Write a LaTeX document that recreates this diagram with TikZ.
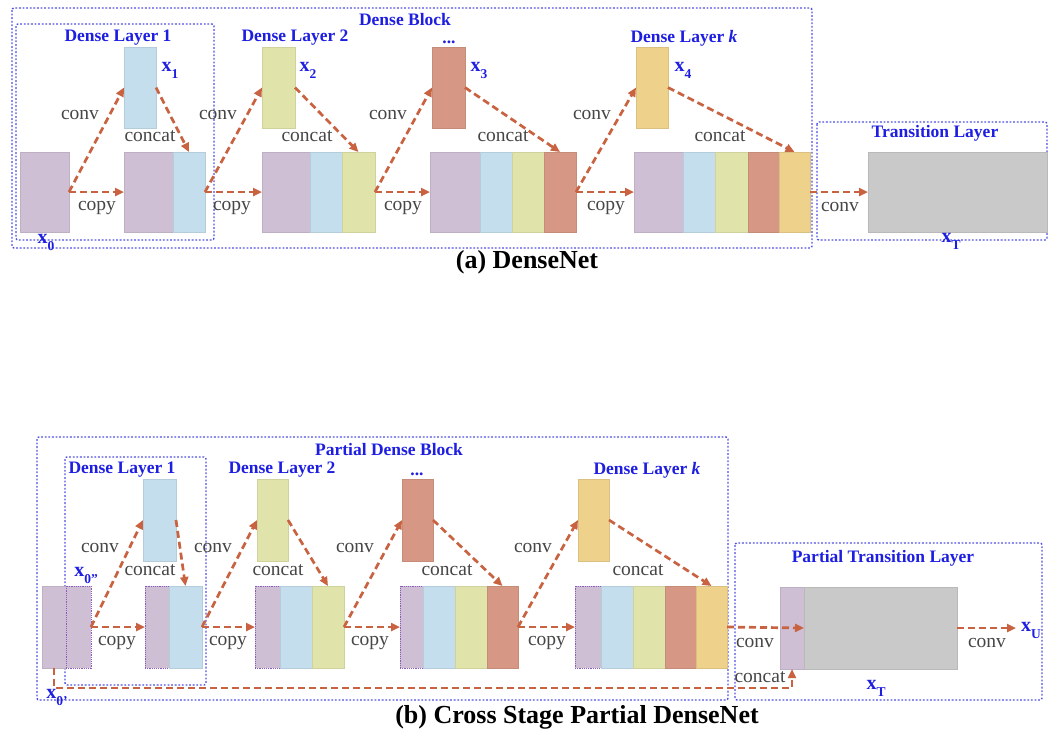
\documentclass[tikz,border=0pt]{standalone}
\usepackage{fontspec}
\setmainfont{Liberation Serif}
\usetikzlibrary{arrows.meta,calc}
\definecolor{cpur}{RGB}{206,191,212}
\definecolor{cblu}{RGB}{197,222,237}
\definecolor{cyel}{RGB}{225,228,170}
\definecolor{csal}{RGB}{214,152,132}
\definecolor{corn}{RGB}{238,210,140}
\definecolor{cgry}{RGB}{201,201,201}
\definecolor{carr}{RGB}{200,98,64}
\definecolor{cfrm}{RGB}{80,80,225}
\definecolor{clab}{RGB}{30,30,225}
\definecolor{ctxt}{RGB}{70,70,70}
\definecolor{cdot}{RGB}{140,90,190}
\tikzset{
  seg/.style={draw=#1!92!black, fill=#1, line width=0.3pt, inner sep=0pt, outer sep=0pt, anchor=north west},
  dseg/.style={draw=cdot, fill=cpur, line width=0.9pt, dash pattern=on 1.2pt off 1pt, inner sep=0pt, outer sep=0pt, anchor=north west},
  arr/.style={draw=carr, line width=2.7pt, dash pattern=on 7pt off 4pt, -{Triangle[length=9pt,width=8pt]}},
  frame/.style={draw=cfrm, line width=1.4pt, dash pattern=on 1.8pt off 1.8pt, rounded corners=2pt},
  ttl/.style={text=clab, font=\bfseries\fontsize{17.5}{19}\selectfont, inner sep=0pt},
  xl/.style={text=clab, font=\bfseries\fontsize{20}{21}\selectfont, inner sep=0pt},
  op/.style={text=ctxt, font=\fontsize{19.5}{20}\selectfont, inner sep=0pt},
  captxt/.style={text=black, font=\bfseries\fontsize{26}{28}\selectfont, inner sep=0pt},
}
\newcommand\blk[6]{\node[seg=#6, minimum width={#4pt-#2pt}, minimum height={#5pt-#3pt}] (#1) at (#2,#3) {};}
\newcommand\dblk[5]{\node[dseg, minimum width={#4pt-#2pt}, minimum height={#5pt-#3pt}] (#1) at (#2,#3) {};}
\newcommand\xs[2]{x\raisebox{-0.35em}{\fontsize{13.5}{14}\selectfont #2}}
\begin{document}
\begin{tikzpicture}[x=1pt,y=-1pt]
\useasboundingbox (0,0) rectangle (1050,732);
% ================= (a) =================
\draw[frame] (12,8) rectangle (812,248);
\draw[frame] (16,24) rectangle (214,240);
\draw[frame] (817,122) rectangle (1047,240);
% feature maps
\blk{ax0}{20}{152}{69}{232}{cpur}
\blk{ax1}{124}{47}{156}{128}{cblu}
\blk{ab1a}{124}{152}{173}{232}{cpur}
\blk{ab1b}{173}{152}{205}{232}{cblu}
\blk{ax2}{262}{47}{295}{128}{cyel}
\blk{ab2a}{262}{152}{310}{232}{cpur}
\blk{ab2b}{310}{152}{342}{232}{cblu}
\blk{ab2c}{342}{152}{375}{232}{cyel}
\blk{ax3}{432}{47}{465}{128}{csal}
\blk{ab3a}{430}{152}{480}{232}{cpur}
\blk{ab3b}{480}{152}{512}{232}{cblu}
\blk{ab3c}{512}{152}{544}{232}{cyel}
\blk{ab3d}{544}{152}{576}{232}{csal}
\blk{ax4}{636}{47}{668}{128}{corn}
\blk{ab4a}{634}{152}{683}{232}{cpur}
\blk{ab4b}{683}{152}{715}{232}{cblu}
\blk{ab4c}{715}{152}{748}{232}{cyel}
\blk{ab4d}{748}{152}{779}{232}{csal}
\blk{ab4e}{779}{152}{810}{232}{corn}
\blk{axT}{868}{152}{1047}{232}{cgry}
% arrows
\draw[arr] (ax0.east) -- (ax1.west);
\draw[arr] (ax0.east) -- (ab1a.west);
\draw[arr] (ax1.east) -- (ab1b.north);
\draw[arr] (ab1b.east) -- (ax2.west);
\draw[arr] (ab1b.east) -- (ab2a.west);
\draw[arr] (ax2.east) -- (ab2c.north);
\draw[arr] (ab2c.east) -- (ax3.west);
\draw[arr] (ab2c.east) -- (ab3a.west);
\draw[arr] (ax3.east) -- (ab3d.north);
\draw[arr] (ab3d.east) -- (ax4.west);
\draw[arr] (ab3d.east) -- (ab4a.west);
\draw[arr] (ax4.east) -- (ab4e.north);
\draw[arr] (ab4e.east) -- (axT.west);
% labels
\node[ttl] (aDB) at (405,20) {Dense Block};
\node[ttl] (aL1) at (118,38) {Dense Layer 1};
\node[ttl] (aL2) at (295,38) {Dense Layer 2};
\node[ttl,anchor=base] (aLd) at (449,43) {...};
\node[ttl] (aLk) at (684,38) {Dense Layer \textit{k}};
\node[ttl] (aTL) at (935,133) {Transition Layer};
\node[xl] (lx1) at (170,70) {\xs{x}{1}};
\node[xl] (lx2) at (308,70) {\xs{x}{2}};
\node[xl] (lx3) at (479,70) {\xs{x}{3}};
\node[xl] (lx4) at (683,70) {\xs{x}{4}};
\node[xl] (lx0) at (46,242) {\xs{x}{0}};
\node[xl] (lxT) at (951,241) {\xs{x}{T}};
\node[op] (ac1) at (80,115) {conv};
\node[op] (ac2) at (218,115) {conv};
\node[op] (ac3) at (388,115) {conv};
\node[op] (ac4) at (592,115) {conv};
\node[op] (ac5) at (840,207) {conv};
\node[op] (ak1) at (150,136) {concat};
\node[op] (ak2) at (307,136) {concat};
\node[op] (ak3) at (503,136) {concat};
\node[op] (ak4) at (720,136) {concat};
\node[op] (ap1) at (97,208) {copy};
\node[op] (ap2) at (232,208) {copy};
\node[op] (ap3) at (403,208) {copy};
\node[op] (ap4) at (606,208) {copy};
\node[captxt] (capa) at (527,262) {(a) DenseNet};
% ================= (b) =================
\draw[frame] (37,437) rectangle (728,700);
\draw[frame] (65,457) rectangle (206,685);
\draw[frame] (735,543) rectangle (1042,700);
\blk{bx0a}{42}{586}{66}{668}{cpur}
\dblk{bx0b}{66}{586}{91}{668}
\blk{bx1}{143}{479}{176}{561}{cblu}
\dblk{bb1a}{145}{586}{169}{668}
\blk{bb1b}{169}{586}{202}{668}{cblu}
\blk{bx2}{257}{479}{288}{561}{cyel}
\dblk{bb2a}{255}{586}{280}{668}
\blk{bb2b}{280}{586}{312}{668}{cblu}
\blk{bb2c}{312}{586}{344}{668}{cyel}
\blk{bx3}{402}{479}{433}{561}{csal}
\dblk{bb3a}{400}{586}{423}{668}
\blk{bb3b}{423}{586}{455}{668}{cblu}
\blk{bb3c}{455}{586}{487}{668}{cyel}
\blk{bb3d}{487}{586}{518}{668}{csal}
\blk{bx4}{578}{479}{609}{561}{corn}
\dblk{bb4a}{575}{586}{601}{668}
\blk{bb4b}{601}{586}{633}{668}{cblu}
\blk{bb4c}{633}{586}{665}{668}{cyel}
\blk{bb4d}{665}{586}{696}{668}{csal}
\blk{bb4e}{696}{586}{727}{668}{corn}
\blk{bxTa}{780}{587}{804}{669}{cpur}
\blk{bxTb}{804}{587}{957}{669}{cgry}
\coordinate (bxU) at (1016,628);
% arrows
\draw[arr] (bx0b.east) -- (bx1.west);
\draw[arr] (bx0b.east) -- (bb1a.west);
\draw[arr] (bx1.east) -- (bb1b.north);
\draw[arr] (bb1b.east) -- (bx2.west);
\draw[arr] (bb1b.east) -- (bb2a.west);
\draw[arr] (bx2.east) -- (bb2c.north);
\draw[arr] (bb2c.east) -- (bx3.west);
\draw[arr] (bb2c.east) -- (bb3a.west);
\draw[arr] (bx3.east) -- (bb3d.north);
\draw[arr] (bb3d.east) -- (bx4.west);
\draw[arr] (bb3d.east) -- (bb4a.west);
\draw[arr] (bx4.east) -- (bb4e.north);
\draw[arr] (bb4e.east) -- (bxTa.east);
\draw[arr] (bxTb.east) -- (bxU);
\draw[arr] (bx0a.south) -- ++(0,20) -| (bxTa.south);
% labels
\node[ttl] (bPB) at (389,450) {Partial Dense Block};
\node[ttl] (bL1) at (122,470) {Dense Layer 1};
\node[ttl] (bL2) at (282,470) {Dense Layer 2};
\node[ttl,anchor=base] (bLd) at (417,475) {...};
\node[ttl] (bLk) at (647,470) {Dense Layer \textit{k}};
\node[ttl] (bTL) at (883,558) {Partial Transition Layer};
\node[xl] (lb0b) at (86,575) {x\raisebox{-0.35em}{\fontsize{13.5}{14}\selectfont 0''}};
\node[xl] (lb0a) at (57,697) {x\raisebox{-0.35em}{\fontsize{13.5}{14}\selectfont 0'}};
\node[xl] (lbU) at (1031,630) {\xs{x}{U}};
\node[xl] (lbT) at (876,688) {\xs{x}{T}};
\node[op] (bc1) at (100,548) {conv};
\node[op] (bc2) at (213,548) {conv};
\node[op] (bc3) at (355,548) {conv};
\node[op] (bc4) at (533,548) {conv};
\node[op] (bc5) at (755,643) {conv};
\node[op] (bc6) at (987,643) {conv};
\node[op] (bk1) at (150,570) {concat};
\node[op] (bk2) at (278,570) {concat};
\node[op] (bk3) at (447,570) {concat};
\node[op] (bk4) at (638,570) {concat};
\node[op] (bk5) at (760,677) {concat};
\node[op] (bp1) at (117,643) {copy};
\node[op] (bp2) at (228,643) {copy};
\node[op] (bp3) at (370,643) {copy};
\node[op] (bp4) at (547,643) {copy};
\node[captxt] (capb) at (577,717) {(b) Cross Stage Partial DenseNet};
\end{tikzpicture}
\end{document}
